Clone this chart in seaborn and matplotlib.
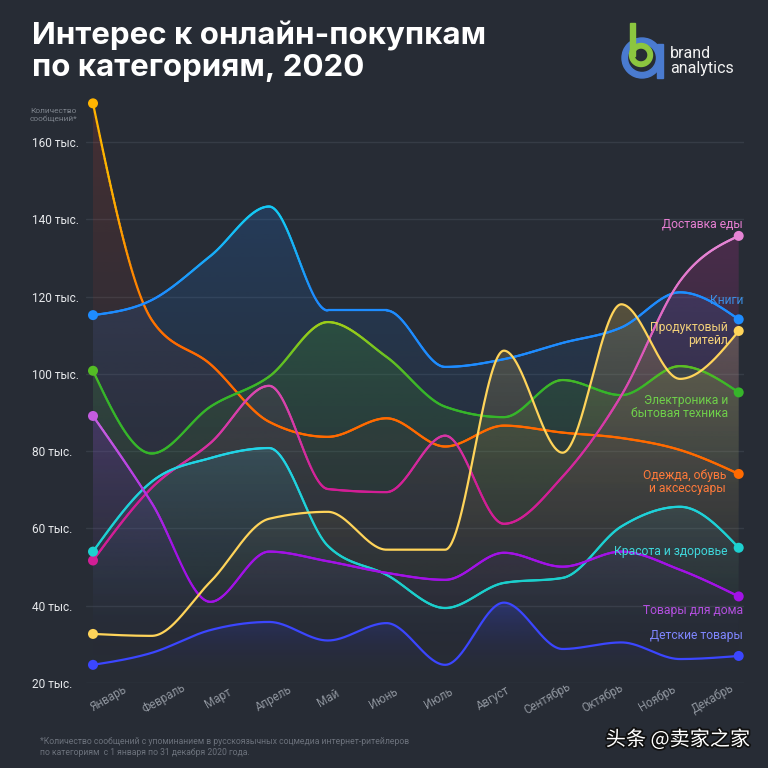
import numpy as np
import pandas as pd
import seaborn as sns
import matplotlib.pyplot as plt
import matplotlib.patheffects as pe
from matplotlib.collections import LineCollection
from matplotlib.colors import LinearSegmentedColormap, Normalize, to_rgb
from matplotlib.patches import Wedge, Rectangle, Polygon

# ---- data (thousands of messages per month) ----
months = ["Январь", "Февраль", "Март", "Апрель", "Май", "Июнь",
          "Июль", "Август", "Сентябрь", "Октябрь", "Ноябрь", "Декабрь"]
clothes = [170.0, 114.0, 102.5, 87.6, 83.7, 88.5, 81.2, 86.6, 84.8, 83.4, 80.3, 74.1]
books = [115.2, 119.1, 130.5, 143.3, 116.4, 116.4, 101.8, 103.8, 108.0, 112.0, 121.1, 114.1]
electronics = [100.8, 79.4, 91.5, 99.3, 113.4, 104.4, 91.5, 88.8, 98.4, 94.5, 102.0, 95.2]
food = [51.7, 70.5, 82.1, 96.9, 70.2, 69.4, 84.0, 61.2, 73.4, 94.4, 124.0, 135.7]
grocery = [32.7, 32.2, 46.2, 62.5, 64.3, 54.5, 54.5, 106.0, 79.6, 118.0, 98.7, 111.1]
beauty = [54.0, 72.1, 78.2, 80.8, 55.5, 48.0, 39.4, 45.9, 47.2, 60.5, 65.6, 55.0]
home = [89.1, 66.6, 41.0, 54.0, 51.5, 48.5, 46.7, 53.7, 50.1, 54.0, 49.3, 42.4]
kids = [24.7, 27.8, 33.7, 35.8, 31.0, 35.5, 24.7, 40.8, 28.8, 30.5, 26.2, 27.0]
y_ticks = [20, 40, 60, 80, 100, 120, 140, 160]

BG = "#272c35"
W, H = 768, 768

# name, values, line color low/high, gradient range, fill color, fill alpha, label, label color
series = [
    ("clothes", clothes, "#ff6a00", "#ffb400", (108, 150), "#e8402a", 0.16,
     "Одежда, обувь\nи аксессуары", "#ff7a3a"),
    ("books", books, "#1e8cff", "#14c8f5", (120, 140), "#1f6fd0", 0.24,
     "Книги", "#3a8ee6"),
    ("electronics", electronics, "#36b52a", "#9ccd1a", (96, 112), "#3f9f22", 0.24,
     "Электроника и\nбытовая техника", "#6fd04a"),
    ("food", food, "#d21e96", "#e584d4", (70, 132), "#c8309a", 0.22,
     "Доставка еды", "#e77fd3"),
    ("grocery", grocery, "#ffd45a", "#ffd45a", (0, 1), "#ffd45a", 0.22,
     "Продуктовый\nритейл", "#f5d27a"),
    ("beauty", beauty, "#1ccfcc", "#22d4e6", (50, 80), "#3aa8c0", 0.18,
     "Красота и здоровье", "#3fd8dc"),
    ("home", home, "#a212e6", "#c45ce0", (55, 85), "#8a20e0", 0.24,
     "Товары для дома", "#b44fe0"),
    ("kids", kids, "#3b46ff", "#3b46ff", (0, 1), "#3040ff", 0.26,
     "Детские товары", "#7f86ff"),
]

# label anchors: (x pixel of right edge, y value)
label_pos = {
    "food": (743, 138.8), "books": (743, 119.1), "grocery": (728, 110.3),
    "electronics": (728, 91.4), "clothes": (726, 72.0), "beauty": (728, 53.9),
    "home": (743, 38.7), "kids": (743, 32.2),
}


def monotone(vals, n=60):
    # monotone cubic (d3 curveMonotoneX style) on unit-spaced x
    y = np.asarray(vals, float)
    s = np.diff(y)
    t = np.zeros_like(y)
    for i in range(1, len(y) - 1):
        s0, s1 = s[i - 1], s[i]
        p = (s0 + s1) / 2
        t[i] = (np.sign(s0) + np.sign(s1)) * min(abs(s0), abs(s1), 0.5 * abs(p))
    t[0] = (3 * s[0] - t[1]) / 2
    t[-1] = (3 * s[-1] - t[-2]) / 2
    xs, ys = [], []
    u = np.linspace(0, 1, n, endpoint=False)
    for i in range(len(y) - 1):
        h00 = 2 * u**3 - 3 * u**2 + 1
        h10 = u**3 - 2 * u**2 + u
        h01 = -2 * u**3 + 3 * u**2
        h11 = u**3 - u**2
        xs.append(i + u)
        ys.append(h00 * y[i] + h10 * t[i] + h01 * y[i + 1] + h11 * t[i + 1])
    xs.append([len(y) - 1])
    ys.append([y[-1]])
    return np.concatenate(xs), np.concatenate(ys)


sns.set_theme(style="dark", rc={"axes.facecolor": BG, "figure.facecolor": BG})
plt.rcParams["font.family"] = ["Roboto", "DejaVu Sans"]

fig = plt.figure(figsize=(W / 100, H / 100), dpi=100)
ymin, ymax = 20, 172.5
x_lo, x_hi = (86 - 93) / 58.7, (744 - 93) / 58.7
top_px = 142 - (ymax - 160) * 77.3 / 20
ax = fig.add_axes([86 / W, 1 - 683 / H, (744 - 86) / W, (683 - top_px) / H])
ax.set_facecolor(BG)

# ---- gradient fills under each curve ----
for name, vals, c_lo, c_hi, rng, fcol, a0, lab, lcol in series:
    xs, ys = monotone(vals)
    verts = np.vstack([np.column_stack([xs, ys]),
                       [[xs[-1], ymin], [xs[0], ymin]]])
    poly = Polygon(verts, closed=True, facecolor="none", edgecolor="none")
    ax.add_patch(poly)
    top = ys.max()
    ramp = np.linspace(0, 1, 256)
    grad = np.zeros((256, 1, 4))
    grad[:, 0, :3] = to_rgb(fcol)
    grad[:, 0, 3] = a0 * ramp**1.8
    im = ax.imshow(grad, extent=[xs.min(), xs.max(), ymin, top], origin="lower",
                   aspect="auto", zorder=1, interpolation="bilinear")
    im.set_clip_path(poly)

# ---- lines ----
plain = []
endpoints = []
palette = {}
for name, vals, c_lo, c_hi, rng, fcol, a0, lab, lcol in series:
    xs, ys = monotone(vals)
    cmap = LinearSegmentedColormap.from_list(name, [c_lo, c_hi])
    norm = Normalize(*rng)
    if c_lo == c_hi:
        plain.append(pd.DataFrame({"month": xs, "value": ys, "cat": name}))
        palette[name] = c_lo
    else:
        pts = np.column_stack([xs, ys]).reshape(-1, 1, 2)
        segs = np.concatenate([pts[:-1], pts[1:]], axis=1)
        mids = (ys[:-1] + ys[1:]) / 2
        lc = LineCollection(segs, colors=cmap(norm(mids)), linewidths=1.6,
                            zorder=3, capstyle="round")
        ax.add_collection(lc)
    for i in (0, len(vals) - 1):
        key = f"{name}_{i}"
        endpoints.append({"month": i, "value": vals[i], "key": key})
        palette[key] = c_lo if c_lo == c_hi else cmap(norm(vals[i]))

plain_df = pd.concat(plain, ignore_index=True)
sns.lineplot(data=plain_df, x="month", y="value", hue="cat", palette=palette,
             linewidth=1.6, legend=False, ax=ax, zorder=3, sort=False,
             estimator=None)
end_df = pd.DataFrame(endpoints)
sns.scatterplot(data=end_df, x="month", y="value", hue="key", palette=palette,
                s=52, linewidth=0, legend=False, ax=ax, zorder=4, clip_on=False)

# ---- series labels ----
for name, vals, c_lo, c_hi, rng, fcol, a0, lab, lcol in series:
    px, v = label_pos[name]
    ax.text((px - 93) / 58.7, v, lab, color=lcol, fontsize=8.7, ha="right",
            va="center", linespacing=1.0, zorder=5)

# ---- axes styling ----
ax.set_xlim(x_lo, x_hi)
ax.set_ylim(ymin, ymax)
ax.set_yticks(y_ticks)
ax.set_yticklabels([f"{v} тыс." for v in y_ticks], color="#e6e8eb", fontsize=8.6)
for t in ax.get_yticklabels():
    t.set_horizontalalignment("left")
ax.tick_params(axis="y", length=0, pad=(86 - 32) * 0.72)
label_x = [0.27 + i * 0.935 for i in range(len(months))]
ax.set_xticks(label_x)
ax.set_xticklabels(months, rotation=30, color="#8e949d", fontsize=8.4,
                   ha="center", va="center")
ax.tick_params(axis="x", length=0, pad=11)
ax.grid(False)
ax.yaxis.grid(True, color="#363c46", linewidth=1.0)
ax.set_axisbelow(True)
ax.set_xlabel("")
ax.set_ylabel("")
for sp in ax.spines.values():
    sp.set_visible(False)

# ---- texts ----
fig.text(32 / W, 1 - 21 / H, "Интерес к онлайн-покупкам\nпо категориям, 2020",
         color="white", fontsize=22.5, weight="bold", va="top", ha="left",
         linespacing=1.12, family=["Inter", "DejaVu Sans"])
fig.text(30 / W, 1 - 115 / H, "Количество\nсообщений*", color="#7c828b",
         fontsize=6.0, va="center", ha="left", linespacing=1.3)
fig.text(40 / W, 1 - 747 / H,
         "*Количество сообщений с упоминанием в русскоязычных соцмедиа интернет-ритейлеров\n"
         "по категориям  с 1 января по 31 декабря 2020 года.",
         color="#6b717b", fontsize=6.2, va="center", ha="left", linespacing=1.3)
fig.text(670 / W, 1 - 61 / H, "brand\nanalytics", color="#f2f2f2",
         fontsize=11.5, va="center", ha="left", linespacing=1.0)
fig.text(750 / W, 1 - 740 / H, "头条 @卖家之家", color="white", fontsize=14.5,
         va="center", ha="right", family=["Noto Sans CJK SC", "DejaVu Sans"],
         path_effects=[pe.withStroke(linewidth=2.5, foreground="#111111")])

# ---- logo mark ----
lg = fig.add_axes([0, 0, 1, 1], zorder=10)
lg.set_xlim(0, W)
lg.set_ylim(H, 0)
lg.axis("off")
lg.patch.set_alpha(0)
lg.add_patch(Wedge((642, 58), 20, 0, 360, width=5.5, color="#4a7bd0"))
lg.add_patch(Rectangle((656.5, 44), 6, 34, color="#4a7bd0"))
lg.add_patch(Wedge((641, 55), 11.5, 0, 360, width=4.5, color="#8cc63f"))
lg.add_patch(Rectangle((629.5, 23), 5, 33, color="#8cc63f"))

fig.savefig("out.png", dpi=100, facecolor=BG)
